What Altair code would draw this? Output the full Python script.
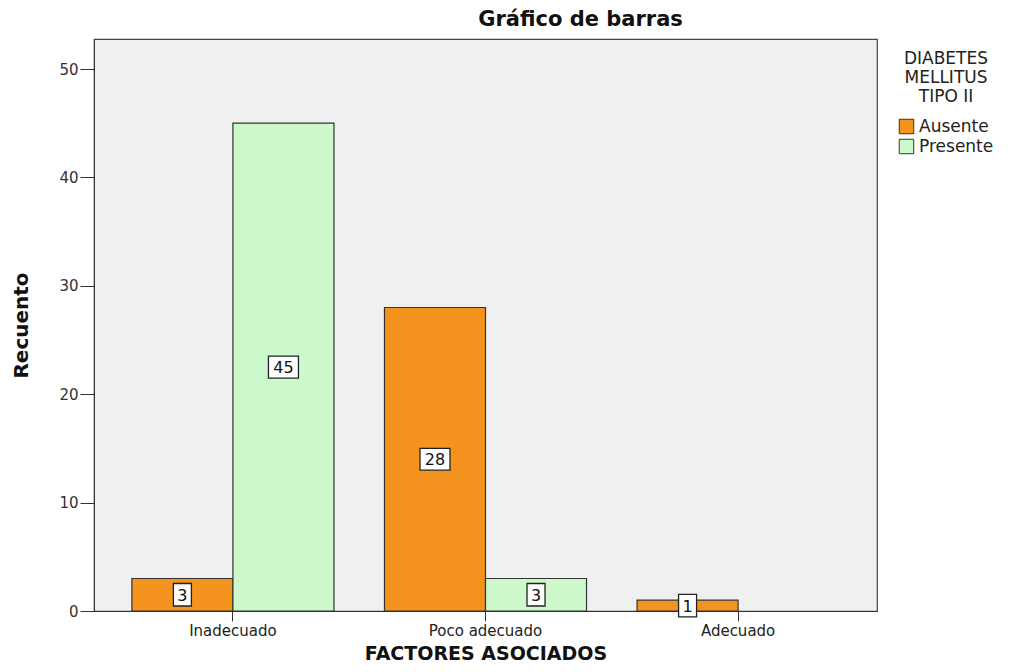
import altair as alt
import pandas as pd

categories = ["Inadecuado", "Inadecuado", "Poco adecuado", "Poco adecuado", "Adecuado", "Adecuado"]
series = ["Ausente", "Presente", "Ausente", "Presente", "Ausente", "Presente"]
counts = [3, 45, 28, 3, 1, 0]

cat_order = ["Inadecuado", "Poco adecuado", "Adecuado"]
series_order = ["Ausente", "Presente"]
colors = ["#F5931F", "#CCF8CC"]

df = pd.DataFrame({"factor": categories, "dm": series, "n": counts})
df["mid"] = df["n"] / 2
df["lab"] = df["n"].astype(str)

FONT = "DejaVu Sans"

x_enc = alt.X("factor:N", sort=cat_order,
              scale=alt.Scale(paddingInner=0.2, paddingOuter=0.15),
              axis=alt.Axis(title="FACTORES ASOCIADOS", labelAngle=0, labelFontSize=15,
                            labelColor="#222", tickSize=10, tickColor="#333", domainColor="#333",
                            labelPadding=2, titleFontSize=19, titleFontWeight="bold",
                            titleColor="#111", titleY=52, titleBaseline="bottom",
                            labelFont=FONT, titleFont=FONT))
xoff = alt.XOffset("dm:N", sort=series_order, scale=alt.Scale(domain=series_order))
y_scale = alt.Scale(domain=[0, 52.77], nice=False, zero=True)

bars = alt.Chart(df).transform_filter("datum.n > 0").mark_bar(stroke="#333", strokeWidth=1.2).encode(
    x=x_enc,
    xOffset=xoff,
    y=alt.Y("n:Q", scale=y_scale,
            axis=alt.Axis(title="Recuento", values=[0, 10, 20, 30, 40, 50], grid=False,
                          labelFontSize=15, labelColor="#333", tickSize=14, tickColor="#333",
                          domainColor="#333", labelPadding=2, titleFontSize=20,
                          titleFontWeight="bold", titleColor="#111",
                          titleX=-67, titleY=286, titleBaseline="alphabetic",
                          labelFont=FONT, titleFont=FONT)),
    color=alt.Color("dm:N", sort=series_order,
                    scale=alt.Scale(domain=series_order, range=colors),
                    legend=alt.Legend(title=["DIABETES", "MELLITUS", "TIPO II"],
                                      orient="none", legendX=804, legendY=12,
                                      titleFontSize=17, titleFontWeight="normal",
                                      titleColor="#222", titleAlign="center", titleAnchor="middle",
                                      titleLineHeight=19,
                                      titleFont=FONT, labelFont=FONT,
                                      labelFontSize=17, labelColor="#222",
                                      symbolType="square", symbolSize=210,
                                      symbolStrokeColor="#333", symbolStrokeWidth=1,
                                      symbolOpacity=1, rowPadding=1, titlePadding=12)),
)

lab_df_filter_2 = "datum.n >= 10"
lab_df_filter_1 = "datum.n > 0 && datum.n < 10"

box2 = alt.Chart(df).transform_filter(lab_df_filter_2).mark_point(
    shape="M-1,-0.73H1V0.73H-1Z", size=900, filled=True, fill="white",
    stroke="#222", strokeWidth=1.3, opacity=1
).encode(x=alt.X("factor:N", sort=cat_order), xOffset=xoff, y=alt.Y("mid:Q", scale=y_scale))

box1 = alt.Chart(df).transform_filter(lab_df_filter_1).mark_point(
    shape="M-1,-1.25H1V1.25H-1Z", size=324, filled=True, fill="white",
    stroke="#222", strokeWidth=1.3, opacity=1
).encode(x=alt.X("factor:N", sort=cat_order), xOffset=xoff, y=alt.Y("mid:Q", scale=y_scale))

texts = alt.Chart(df).transform_filter("datum.n > 0").mark_text(
    font=FONT, fontSize=16, color="#111", baseline="middle", align="center", dy=1
).encode(x=alt.X("factor:N", sort=cat_order), xOffset=xoff,
         y=alt.Y("mid:Q", scale=y_scale), text="lab:N")

chart = alt.layer(bars, box2, box1, texts).properties(
    width=783, height=572,
    background="white",
    autosize=alt.AutoSizeParams(type="none"),
    padding={"left": 86, "top": 31, "right": 135, "bottom": 52},
    title=alt.TitleParams("Gráfico de barras", fontSize=21, fontWeight="bold", font=FONT,
                          color="#111", anchor="middle", dx=95, offset=9),
).configure_view(fill="#F0F0F0", stroke="#444", strokeWidth=1.2)

chart.save("out.html", embed_options={"renderer": "svg", "actions": False})
